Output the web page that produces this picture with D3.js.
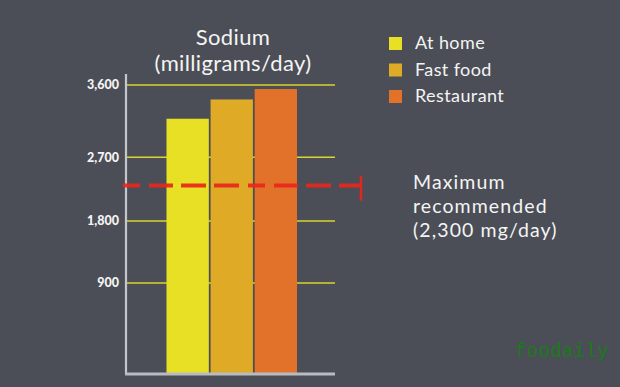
<!DOCTYPE html>
<html><head><meta charset="utf-8">
<script src="https://cdn.jsdelivr.net/npm/d3@7"></script>
<style>
html,body{margin:0;padding:0;background:#4b4e56;}
svg{display:block;}
</style></head>
<body>
<svg id="c" width="620" height="387"></svg>
<script>
// ---- data ----
const categories = ["At home", "Fast food", "Restaurant"];
const sodium = [3180, 3420, 3550];
const colors = ["#e8e024", "#dfab27", "#e2722a"];
const tickValues = [900, 1800, 2700, 3600];
const tickLabels = ["900", "1,800", "2,700", "3,600"];
const maxRecommended = 2300;
const titleLines = ["Sodium", "(milligrams/day)"];
const noteLines = ["Maximum", "recommended", "(2,300 mg/day)"];
const watermark = "foodaily";

const FONT = "Lato, 'Open Sans', sans-serif";
const svg = d3.select("#c");
svg.append("rect").attr("width",620).attr("height",387).attr("fill","#4b4e56");

// piecewise scale reproducing the uneven spacing of the original axis
const y = d3.scaleLinear()
  .domain([0, 900, 1800, 2700, 3600])
  .range([373, 283, 221, 157.3, 85]);
const x = d3.scaleBand().domain(categories).range([166.5, 297]).paddingInner(0.04).paddingOuter(0);

const axisX0 = 126, axisX1 = 335;

// gridlines
svg.append("g").selectAll("line").data(tickValues).join("line")
  .attr("x1", axisX0).attr("x2", axisX1)
  .attr("y1", d => y(d)).attr("y2", d => y(d))
  .attr("stroke", "#dad52c").attr("stroke-width", 1.5);

// bars
svg.append("g").selectAll("rect").data(categories).join("rect")
  .attr("x", d => x(d)).attr("width", x.bandwidth())
  .attr("y", (d,i) => y(sodium[i])).attr("height", (d,i) => y(0) - y(sodium[i]))
  .attr("fill", (d,i) => colors[i]);

// y axis with labels
const yAxis = d3.axisLeft(y).tickValues(tickValues)
  .tickFormat((d,i) => tickLabels[i]).tickSize(0).tickPadding(7);
const ga = svg.append("g").attr("transform", `translate(${axisX0},0)`).call(yAxis);
ga.select(".domain").remove();
ga.selectAll("text").attr("fill", "#f4f4f4").style("font-family", FONT)
  .style("font-weight", "900").style("font-size", "12.5px").attr("dy", "0.3em");

// axis lines
svg.append("line").attr("x1", axisX0).attr("x2", axisX0).attr("y1", 74).attr("y2", y(0) + 1)
  .attr("stroke", "#c4c6cc").attr("stroke-width", 2.2);
svg.append("line").attr("x1", axisX0 - 1).attr("x2", axisX1).attr("y1", y(0) + 1).attr("y2", y(0) + 1)
  .attr("stroke", "#b8bbc0").attr("stroke-width", 3);

// max recommended line
const yMax = y(maxRecommended);
svg.append("line").attr("x1", 123).attr("x2", 361).attr("y1", yMax).attr("y2", yMax)
  .attr("stroke", "#e8261c").attr("stroke-opacity", 0.92).attr("stroke-width", 4)
  .attr("stroke-dasharray", "17,9,24,8,25,8,25,9");
svg.append("line").attr("x1", 361).attr("x2", 361).attr("y1", yMax - 10).attr("y2", yMax + 15)
  .attr("stroke", "#e0261e").attr("stroke-width", 2.5);

// title
svg.append("g").selectAll("text").data(titleLines).join("text")
  .attr("x", 233).attr("y", (d,i) => 44.5 + i * 26.6)
  .attr("text-anchor", "middle").attr("fill", "#f4f4f4")
  .style("font-family", FONT).style("font-size", "22px").style("letter-spacing", "0.35px")
  .text(d => d);

// legend
const lg = svg.append("g").selectAll("g").data(categories).join("g")
  .attr("transform", (d,i) => `translate(389,${37 + i * 26.5})`);
lg.append("rect").attr("width", 13).attr("height", 13).attr("fill", (d,i) => colors[i]);
lg.append("text").attr("x", 26).attr("y", 12).attr("fill", "#f4f4f4")
  .style("font-family", FONT).style("font-size", "18px").style("letter-spacing", "0.4px")
  .text(d => d);

// note
svg.append("g").selectAll("text").data(noteLines).join("text")
  .attr("x", 413).attr("y", (d,i) => 188.5 + i * 24.2)
  .attr("fill", "#f4f4f4")
  .style("font-family", FONT).style("font-size", "19.5px").style("letter-spacing", "1.1px")
  .text(d => d);

// watermark
svg.append("text").attr("x", 515).attr("y", 357).attr("fill", "#1c7a1c")
  .style("font-family", "'Liberation Mono', 'DejaVu Sans Mono', monospace").style("font-size", "19.5px")
  .text(watermark);
</script>
</body></html>
